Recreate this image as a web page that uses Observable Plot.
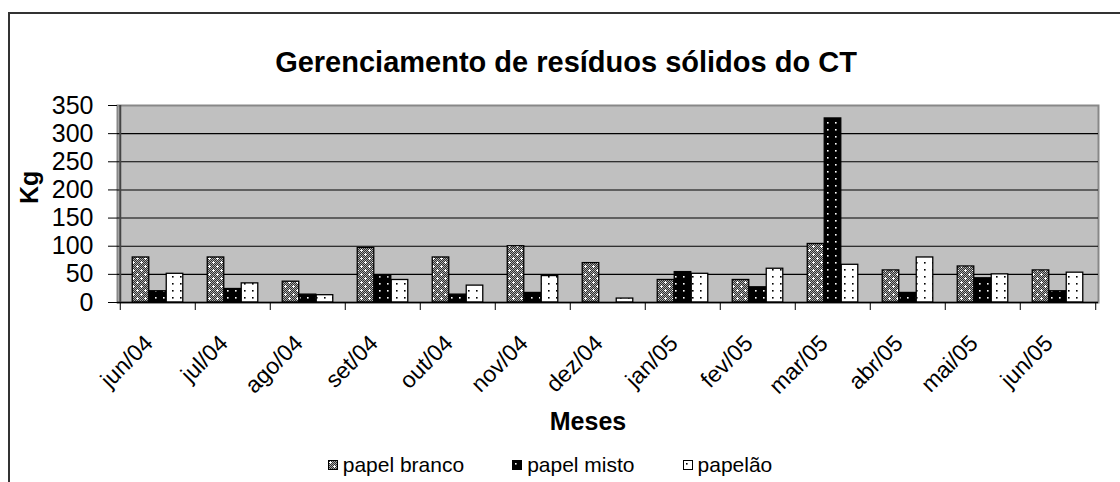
<!DOCTYPE html>
<html>
<head>
<meta charset="utf-8">
<script src="https://cdn.jsdelivr.net/npm/d3@7"></script>
<script src="https://cdn.jsdelivr.net/npm/@observablehq/plot@0.6"></script>
<style>
  html, body { margin: 0; padding: 0; background: #fff; overflow: hidden; width: 1120px; height: 482px; }
  body { position: relative; font-family: "Liberation Sans", Arial, sans-serif; }
  #border { position: absolute; left: 8px; top: 12px; width: 1300px; height: 600px;
            border-left: 2px solid #333; border-top: 2px solid #333; }
  #chart { position: absolute; left: 0; top: 0; width: 1120px; }
  #legend { display: flex; justify-content: center; align-items: center; height: 34px;
            font-size: 21px; color: #000; padding-right: 20px; }
  .item { display: flex; align-items: center; margin: 0 24px; }
  .item svg { margin-right: 5px; }
</style>
</head>
<body>
<svg width="0" height="0" style="position:absolute">
  <defs>
    <pattern id="chk" width="2" height="2" patternUnits="userSpaceOnUse">
      <rect width="2" height="2" fill="#a8a8a8"/>
      <rect x="0" y="0" width="1" height="1" fill="#303030"/>
      <rect x="1" y="1" width="1" height="1" fill="#303030"/>
    </pattern>
    <pattern id="pb" width="8" height="8" patternUnits="userSpaceOnUse">
      <rect width="8" height="8" fill="url(#chk)"/>
      <rect x="1" y="2" width="3" height="1" fill="#fff"/>
      <rect x="2" y="1" width="1" height="3" fill="#fff"/>
      <rect x="5" y="6" width="3" height="1" fill="#fff"/>
      <rect x="6" y="5" width="1" height="3" fill="#fff"/>
    </pattern>
    <pattern id="pm" width="8" height="7" patternUnits="userSpaceOnUse">
      <rect width="8" height="7" fill="#000"/>
      <rect x="3" y="3" width="1.6" height="1.6" fill="#fff"/>
    </pattern>
    <pattern id="pp" width="8" height="7" patternUnits="userSpaceOnUse">
      <rect width="8" height="7" fill="#fff"/>
      <rect x="3" y="3" width="1.6" height="1.6" fill="#000"/>
    </pattern>
  </defs>
</svg>
<div id="border"></div>
<div id="chart"></div>
<script>
// ---- data ----
const months = ["jun/04","jul/04","ago/04","set/04","out/04","nov/04","dez/04","jan/05","fev/05","mar/05","abr/05","mai/05","jun/05"];
const seriesNames = ["papel branco", "papel misto", "papelão"];
const papelBranco = [80, 80, 37, 97, 80, 100, 70, 40, 40, 104, 57, 64, 57];
const papelMisto  = [20, 24, 14, 47, 14, 17, 0, 54, 27, 327, 17, 43, 20];
const papelao     = [51, 34, 13, 40, 30, 47, 7, 51, 60, 67, 80, 50, 53];
const yTicks = [0, 50, 100, 150, 200, 250, 300, 350];
const gridTicks = [50, 100, 150, 200, 250, 300];
const title = "Gerenciamento de resíduos sólidos do CT";
const yLabel = "Kg";
const xLabel = "Meses";

// ---- layout ----
const width = 1120, height = 448;
const mL = 117, mR = 22, mT = 105, mB = 146;
const bw = (width - mL - mR) / months.length;
const barW = 17;
const inset = (bw - barW) / 2;
const fills = ["url(#pb)", "url(#pm)", "url(#pp)"];
const seriesVals = [papelBranco, papelMisto, papelao];

const rows = seriesVals.map(vals => months.map((m, i) => ({month: m, value: vals[i]})));

const barMarks = rows.map((data, s) => Plot.barY(data, {
  x: "month", y: "value",
  fill: fills[s], stroke: "#000", strokeWidth: 1.3,
  insetLeft: inset, insetRight: inset, dx: (s - 1) * barW
}));

const plot = Plot.plot({
  width, height,
  marginLeft: mL, marginRight: mR, marginTop: mT, marginBottom: mB,
  style: {fontFamily: "'Liberation Sans', Arial, sans-serif", color: "#000", background: "transparent", overflow: "visible"},
  x: {type: "band", domain: months, padding: 0},
  y: {domain: [0, 350]},
  marks: [
    Plot.frame({fill: "#c0c0c0", stroke: "#888", strokeWidth: 2}),
    Plot.ruleY(gridTicks, {stroke: "#000", strokeWidth: 1.1}),
    ...barMarks,
    Plot.ruleY([0], {stroke: "#000", strokeWidth: 1.3}),
    Plot.ruleX([months[0]], {dx: -bw / 2, stroke: "#444", strokeWidth: 2}),
    Plot.ruleX(months, {y1: 0, y2: 0, insetBottom: -8, dx: -bw / 2, stroke: "#000"}),
    Plot.ruleX([months[months.length - 1]], {y1: 0, y2: 0, insetBottom: -8, dx: bw / 2, stroke: "#000"}),
    Plot.axisY({ticks: yTicks, tickSize: 9, tickPadding: 15, fontSize: 25, label: null, tickFormat: d => String(d)}),
    Plot.axisX({tickSize: 0, tickRotate: -45, tickPadding: 37, dx: -9, fontSize: 23, label: null}),
    Plot.text([title], {frameAnchor: "top", dy: -54, dx: -42, fontSize: 29, fontWeight: "bold"}),
    Plot.text([yLabel], {frameAnchor: "left", dx: -88, rotate: -90, fontSize: 25, fontWeight: "bold"}),
    Plot.text([xLabel], {frameAnchor: "bottom", dy: 127, dx: -20, fontSize: 25, fontWeight: "bold"})
  ]
});

const chart = document.getElementById("chart");
chart.appendChild(plot);

// ---- legend ----
const legend = document.createElement("div");
legend.id = "legend";
seriesNames.forEach((name, i) => {
  const item = document.createElement("div");
  item.className = "item";
  item.innerHTML = `<svg width="10" height="10"><rect x="0.5" y="0.5" width="9" height="9" fill="${fills[i]}" stroke="#000" stroke-width="1"/></svg><span>${name}</span>`;
  legend.appendChild(item);
});
chart.appendChild(legend);
</script>
</body>
</html>
